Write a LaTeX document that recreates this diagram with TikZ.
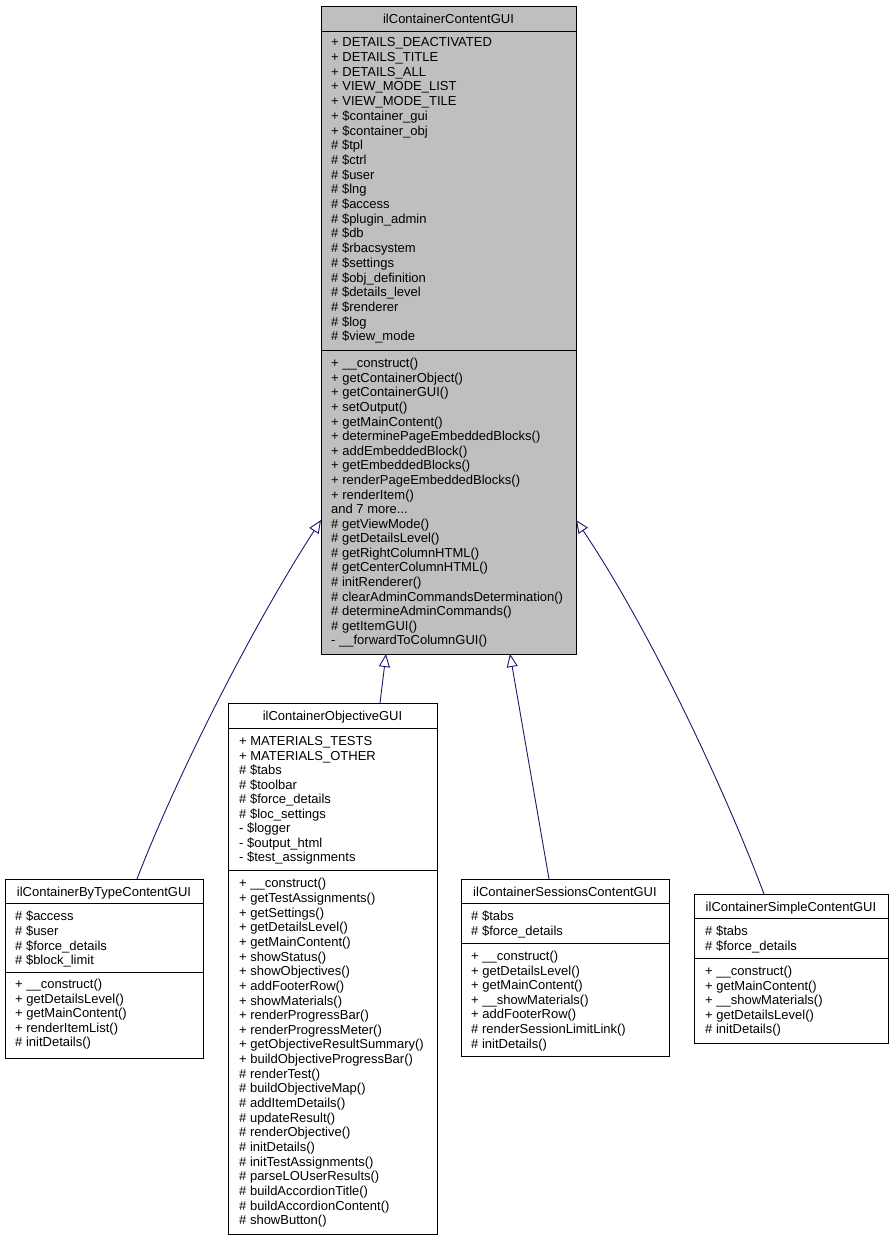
\documentclass[tikz,border=0pt]{standalone}
\usepackage{fontspec}
\setmainfont{Liberation Sans}
\usetikzlibrary{arrows.meta}
\definecolor{nodegray}{HTML}{BFBFBF}
\definecolor{edgeblue}{HTML}{191970}
\newcommand\moredots{...}
\begin{document}
\begin{tikzpicture}[x=1pt,y=-1pt,
  cls/.style={draw=black, line width=1pt, inner sep=0pt, outer sep=0pt, anchor=north west, fill=white},
  sep/.style={draw=black, line width=1pt},
  txt/.style={anchor=base west, inner sep=0pt},
  ttl/.style={anchor=base, inner sep=0pt},
  inh/.style={draw=edgeblue, line width=0.9pt, -{Triangle[open, length=13pt, width=11pt]}},
  font=\fontsize{13}{14.6}\selectfont]
\useasboundingbox (0,0) rectangle (894,1240);

% ---------------- top class ----------------
\node[cls, fill=nodegray, minimum width=255pt, minimum height=648pt] (top) at (321,6) {};
\draw[sep] ([yshift=-25pt]top.north west) -- ([yshift=-25pt]top.north east);
\draw[sep] ([yshift=-344pt]top.north west) -- ([yshift=-344pt]top.north east);
\node[ttl] (topt) at (448.5,23.5) {ilContainerContentGUI};
\foreach \t [count=\i] in {+ DETAILS\_DEACTIVATED, + DETAILS\_TITLE, + DETAILS\_ALL, + VIEW\_MODE\_LIST, + VIEW\_MODE\_TILE, + \$container\_gui, + \$container\_obj, \# \$tpl, \# \$ctrl, \# \$user, \# \$lng, \# \$access, \# \$plugin\_admin, \# \$db, \# \$rbacsystem, \# \$settings, \# \$obj\_definition, \# \$details\_level, \# \$renderer, \# \$log, \# \$view\_mode}
  \node[txt] (topa\i) at (331,46.8+14.7*\i-14.7) {\t};
\foreach \t [count=\i] in {+ \_\_construct(), + getContainerObject(), + getContainerGUI(), + setOutput(), + getMainContent(), + determinePageEmbeddedBlocks(), + addEmbeddedBlock(), + getEmbeddedBlocks(), + renderPageEmbeddedBlocks(), + renderItem(), and 7 more\moredots, \# getViewMode(), \# getDetailsLevel(), \# getRightColumnHTML(), \# getCenterColumnHTML(), \# initRenderer(), \# clearAdminCommandsDetermination(), \# determineAdminCommands(), \# getItemGUI(), - \_\_forwardToColumnGUI()}
  \node[txt] (topm\i) at (331,367.8+14.58*\i-14.58) {\t};

% ---------------- ilContainerByTypeContentGUI ----------------
\node[cls, minimum width=198pt, minimum height=179pt] (bt) at (5,879) {};
\draw[sep] ([yshift=-24pt]bt.north west) -- ([yshift=-24pt]bt.north east);
\draw[sep] ([yshift=-93pt]bt.north west) -- ([yshift=-93pt]bt.north east);
\node[ttl] (btt) at (104,896) {ilContainerByTypeContentGUI};
\foreach \t [count=\i] in {\# \$access, \# \$user, \# \$force\_details, \# \$block\_limit}
  \node[txt] (bta\i) at (15,920.8+14.6*\i-14.6) {\t};
\foreach \t [count=\i] in {+ \_\_construct(), + getDetailsLevel(), + getMainContent(), + renderItemList(), \# initDetails()}
  \node[txt] (btm\i) at (15,988.5+14.6*\i-14.6) {\t};

% ---------------- ilContainerObjectiveGUI ----------------
\node[cls, minimum width=209pt, minimum height=531pt] (obj) at (228,703) {};
\draw[sep] ([yshift=-25pt]obj.north west) -- ([yshift=-25pt]obj.north east);
\draw[sep] ([yshift=-167pt]obj.north west) -- ([yshift=-167pt]obj.north east);
\node[ttl] (objt) at (332.5,720.8) {ilContainerObjectiveGUI};
\foreach \t [count=\i] in {+ MATERIALS\_TESTS, + MATERIALS\_OTHER, \# \$tabs, \# \$toolbar, \# \$force\_details, \# \$loc\_settings, - \$logger, - \$output\_html, - \$test\_assignments}
  \node[txt] (obja\i) at (239,745.8+14.5*\i-14.5) {\t};
\foreach \t [count=\i] in {+ \_\_construct(), + getTestAssignments(), + getSettings(), + getDetailsLevel(), + getMainContent(), + showStatus(), + showObjectives(), + addFooterRow(), + showMaterials(), + renderProgressBar(), + renderProgressMeter(), + getObjectiveResultSummary(), + buildObjectiveProgressBar(), \# renderTest(), \# buildObjectiveMap(), \# addItemDetails(), \# updateResult(), \# renderObjective(), \# initDetails(), \# initTestAssignments(), \# parseLOUserResults(), \# buildAccordionTitle(), \# buildAccordionContent(), \# showButton()}
  \node[txt] (objm\i) at (239,887.8+14.65*\i-14.65) {\t};

% ---------------- ilContainerSessionsContentGUI ----------------
\node[cls, minimum width=208pt, minimum height=177pt] (ses) at (461,879) {};
\draw[sep] ([yshift=-24pt]ses.north west) -- ([yshift=-24pt]ses.north east);
\draw[sep] ([yshift=-64pt]ses.north west) -- ([yshift=-64pt]ses.north east);
\node[ttl] (sest) at (565,896) {ilContainerSessionsContentGUI};
\foreach \t [count=\i] in {\# \$tabs, \# \$force\_details}
  \node[txt] (sesa\i) at (471,920.8+14.6*\i-14.6) {\t};
\foreach \t [count=\i] in {+ \_\_construct(), + getDetailsLevel(), + getMainContent(), + \_\_showMaterials(), + addFooterRow(), \# renderSessionLimitLink(), \# initDetails()}
  \node[txt] (sesm\i) at (471,960.5+14.6*\i-14.6) {\t};

% ---------------- ilContainerSimpleContentGUI ----------------
\node[cls, minimum width=194pt, minimum height=149pt] (sim) at (694,894) {};
\draw[sep] ([yshift=-24pt]sim.north west) -- ([yshift=-24pt]sim.north east);
\draw[sep] ([yshift=-64pt]sim.north west) -- ([yshift=-64pt]sim.north east);
\node[ttl] (simt) at (791,911) {ilContainerSimpleContentGUI};
\foreach \t [count=\i] in {\# \$tabs, \# \$force\_details}
  \node[txt] (sima\i) at (705,935.8+14.6*\i-14.6) {\t};
\foreach \t [count=\i] in {+ \_\_construct(), + getMainContent(), + \_\_showMaterials(), + getDetailsLevel(), \# initDetails()}
  \node[txt] (simm\i) at (705,975.5+14.6*\i-14.6) {\t};

% ---------------- inheritance connectors ----------------
\draw[inh] ([xshift=132pt]bt.north west) .. controls (175,780) and (250,630) .. ([yshift=-514pt]top.north west);
\draw[inh] ([xshift=152pt]obj.north west) -- ([xshift=65pt]top.south west);
\draw[inh] ([xshift=88pt]ses.north west) -- ([xshift=189pt]top.south west);
\draw[inh] ([xshift=70pt]sim.north west) .. controls (725,790) and (650,630) .. ([yshift=-514pt]top.north east);
\end{tikzpicture}
\end{document}
